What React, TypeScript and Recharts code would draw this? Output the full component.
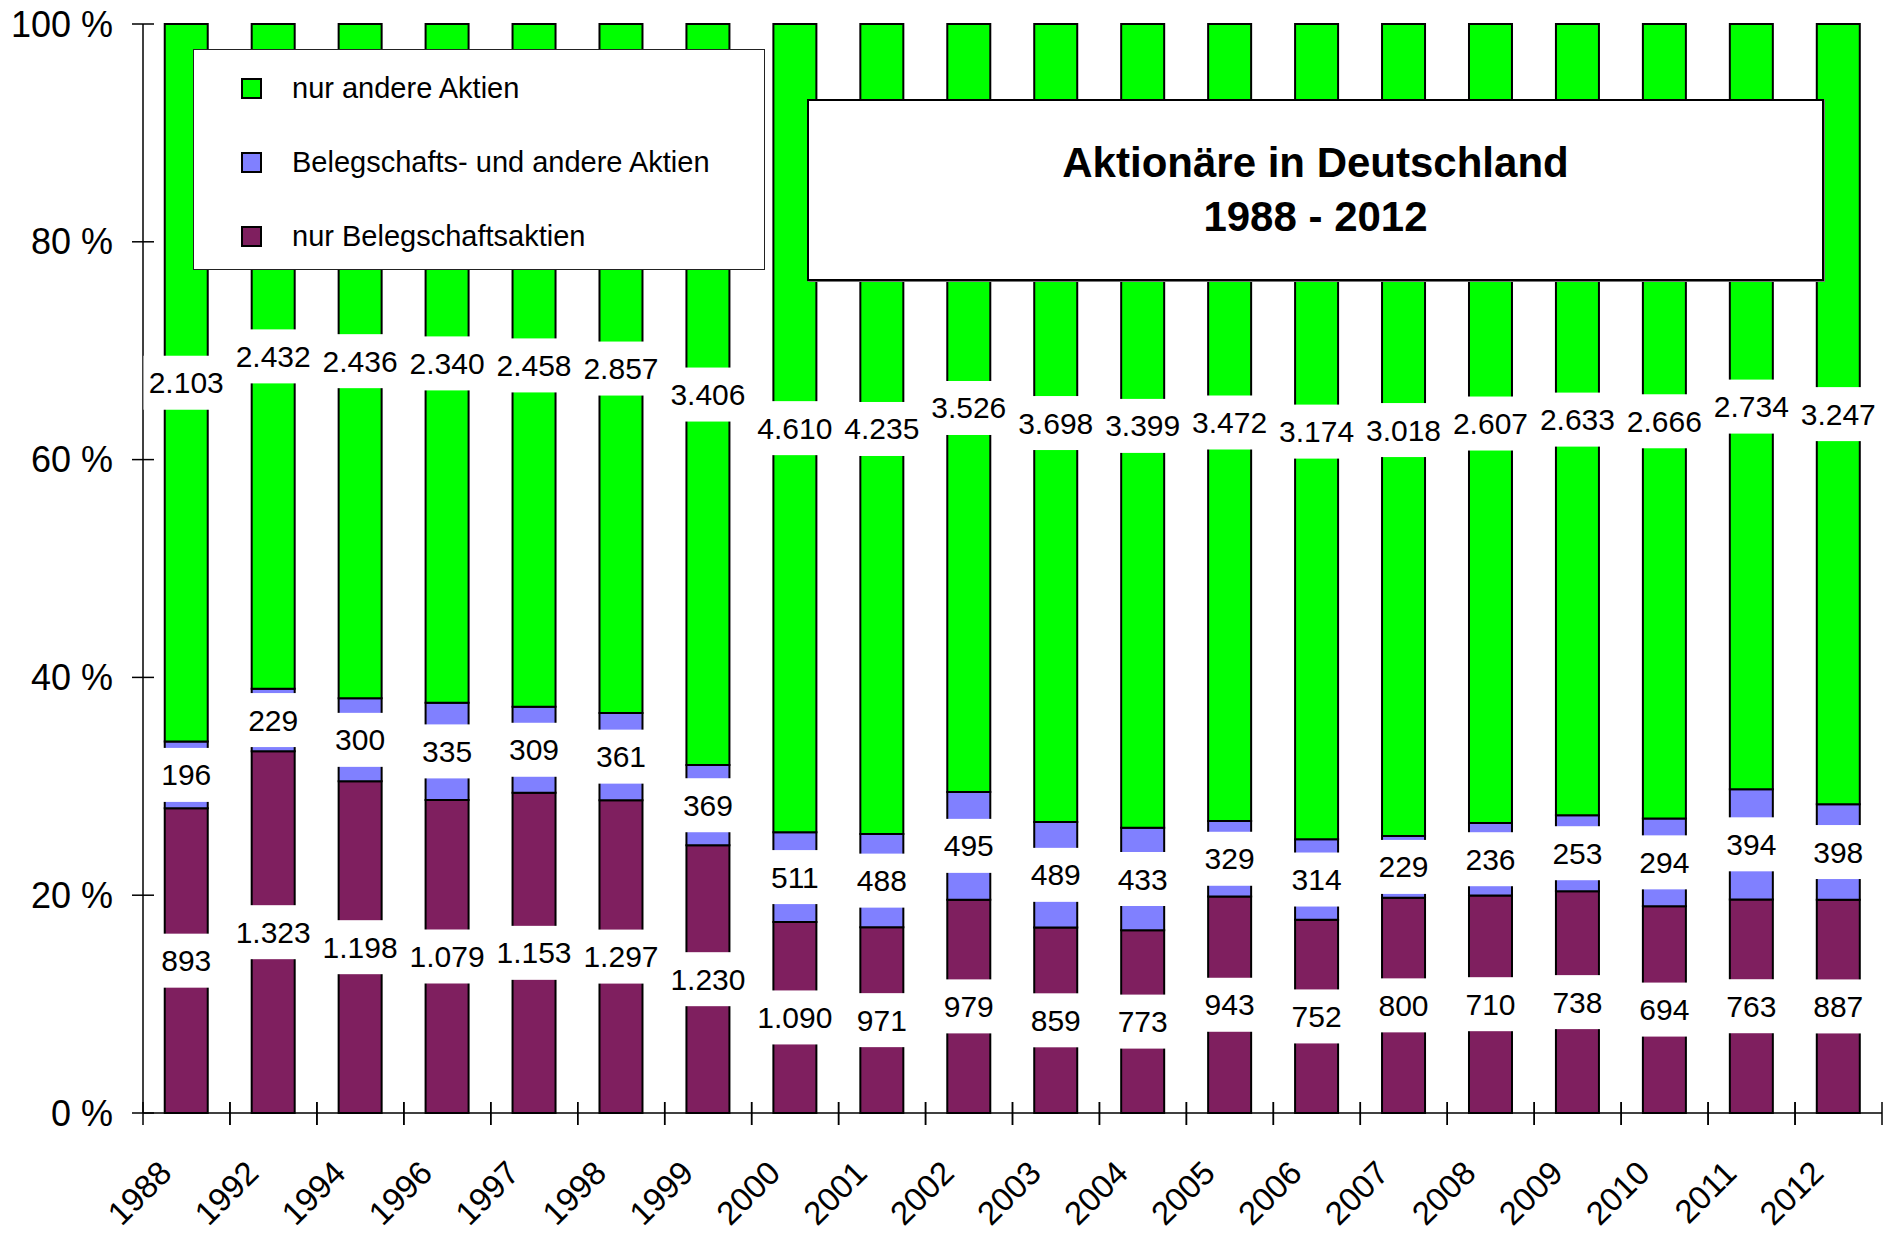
import { BarChart, Bar, XAxis, YAxis, LabelList } from "recharts";

// Aktionäre in Deutschland, Angaben in Tausend
const years = [
  "1988", "1992", "1994", "1996", "1997", "1998", "1999", "2000", "2001", "2002",
  "2003", "2004", "2005", "2006", "2007", "2008", "2009", "2010", "2011", "2012",
];
const nurBeleg = [893, 1323, 1198, 1079, 1153, 1297, 1230, 1090, 971, 979, 859, 773, 943, 752, 800, 710, 738, 694, 763, 887];
const beide = [196, 229, 300, 335, 309, 361, 369, 511, 488, 495, 489, 433, 329, 314, 229, 236, 253, 294, 394, 398];
const nurAndere = [2103, 2432, 2436, 2340, 2458, 2857, 3406, 4610, 4235, 3526, 3698, 3399, 3472, 3174, 3018, 2607, 2633, 2666, 2734, 3247];
const yTicks = [0, 0.2, 0.4, 0.6, 0.8, 1];

const data = years.map((year, i) => ({
  year,
  nurBeleg: nurBeleg[i],
  beide: beide[i],
  nurAndere: nurAndere[i],
}));

const W = 1896;
const H = 1234;
const M = { top: 24, right: 14, bottom: 6, left: 8 };
const X_AXIS_H = 115;
const Y_AXIS_W = 135;
const BAND = (W - M.left - M.right - Y_AXIS_W) / years.length;
const FONT = "'Liberation Sans', Arial, sans-serif";

// German thousands separator
function fmt(n: number) {
  if (n < 1000) return String(n);
  return `${Math.floor(n / 1000)}.${String(n % 1000).padStart(3, "0")}`;
}

// white box label centred on each segment
const makeLabel = (values: number[]) => (props: any) => {
  const { x, y, width, height, index } = props;
  const text = fmt(values[index]);
  const cx = Number(x) + Number(width) / 2;
  const cy = Number(y) + Number(height) / 2;
  const tw = text.length * 16.7 - (text.includes(".") ? 8 : 0);
  return (
    <g>
      <rect x={cx - tw / 2 - 5} y={cy - 27} width={tw + 10} height={54} fill="#fff" />
      <text x={cx} y={cy} textAnchor="middle" dominantBaseline="central" fontSize={30} fontFamily={FONT} fill="#000">
        {text}
      </text>
    </g>
  );
};

function XTick({ x, y, payload }: any) {
  const tx = x - 13;
  const ty = y + 62;
  return (
    <g>
      <line x1={x - BAND / 2} x2={x - BAND / 2} y1={y - 11} y2={y + 12} stroke="#000" strokeWidth={1.5} />
      <line x1={x + BAND / 2} x2={x + BAND / 2} y1={y - 11} y2={y + 12} stroke="#000" strokeWidth={1.5} />
      <text
        x={tx}
        y={ty}
        textAnchor="end"
        fontSize={33}
        fontFamily={FONT}
        fill="#000"
        transform={`rotate(-45, ${tx}, ${ty})`}
      >
        {payload.value}
      </text>
    </g>
  );
}

function YTick({ x, y, payload }: any) {
  return (
    <g>
      <line x1={x - 11} x2={x + 11} y1={y} y2={y} stroke="#000" strokeWidth={1.5} />
      <text x={x - 30} y={y} textAnchor="end" dominantBaseline="central" fontSize={36} fontFamily={FONT} fill="#000">
        {`${Math.round(payload.value * 100)} %`}
      </text>
    </g>
  );
}

const legendItems = [
  { name: "nur andere Aktien", color: "#00FF00" },
  { name: "Belegschafts- und andere Aktien", color: "#8080FF" },
  { name: "nur Belegschaftsaktien", color: "#7F1F5F" },
];

export default function App() {
  return (
    <div style={{ position: "absolute", left: 0, top: 0, width: W, height: H, background: "#fff", fontFamily: FONT }}>
      <BarChart
        width={W}
        height={H}
        data={data}
        stackOffset="expand"
        barCategoryGap="25%"
        margin={M}
      >
        <XAxis
          dataKey="year"
          interval={0}
          tickLine={false}
          tickSize={0}
          tickMargin={0}
          height={X_AXIS_H}
          axisLine={{ stroke: "#000", strokeWidth: 1.5 }}
          tick={<XTick />}
        />
        <YAxis
          domain={[0, 1]}
          ticks={yTicks}
          width={Y_AXIS_W}
          tickLine={false}
          tickSize={0}
          tickMargin={0}
          axisLine={{ stroke: "#000", strokeWidth: 1.5 }}
          tick={<YTick />}
        />
        <Bar dataKey="nurBeleg" stackId="a" fill="#7F1F5F" stroke="#000" strokeWidth={2} isAnimationActive={false}>
          <LabelList dataKey="nurBeleg" content={makeLabel(nurBeleg)} />
        </Bar>
        <Bar dataKey="beide" stackId="a" fill="#8080FF" stroke="#000" strokeWidth={2} isAnimationActive={false}>
          <LabelList dataKey="beide" content={makeLabel(beide)} />
        </Bar>
        <Bar dataKey="nurAndere" stackId="a" fill="#00FF00" stroke="#000" strokeWidth={2} isAnimationActive={false}>
          <LabelList dataKey="nurAndere" content={makeLabel(nurAndere)} />
        </Bar>
      </BarChart>

      {/* Legende */}
      <div
        style={{
          position: "absolute",
          left: 193,
          top: 49,
          width: 570,
          height: 219,
          border: "1.5px solid #222",
          background: "#fff",
        }}
      >
        {legendItems.map((item, i) => (
          <div
            key={item.name}
            style={{ position: "absolute", left: 47, top: 38 + i * 74 - 18, height: 36, display: "flex", alignItems: "center" }}
          >
            <div style={{ width: 17, height: 17, background: item.color, border: "2px solid #000" }} />
            <span style={{ marginLeft: 30, fontSize: 29, color: "#000" }}>{item.name}</span>
          </div>
        ))}
      </div>

      {/* Titel */}
      <div
        style={{
          position: "absolute",
          left: 807,
          top: 99,
          width: 1013,
          height: 178,
          border: "2px solid #000",
          boxShadow: "1px 1px 0 #777",
          background: "#fff",
          display: "flex",
          flexDirection: "column",
          justifyContent: "center",
          alignItems: "center",
          fontWeight: "bold",
          fontSize: 42,
          lineHeight: "54px",
          color: "#000",
        }}
      >
        <div>Aktionäre in Deutschland</div>
        <div>1988 - 2012</div>
      </div>
    </div>
  );
}
